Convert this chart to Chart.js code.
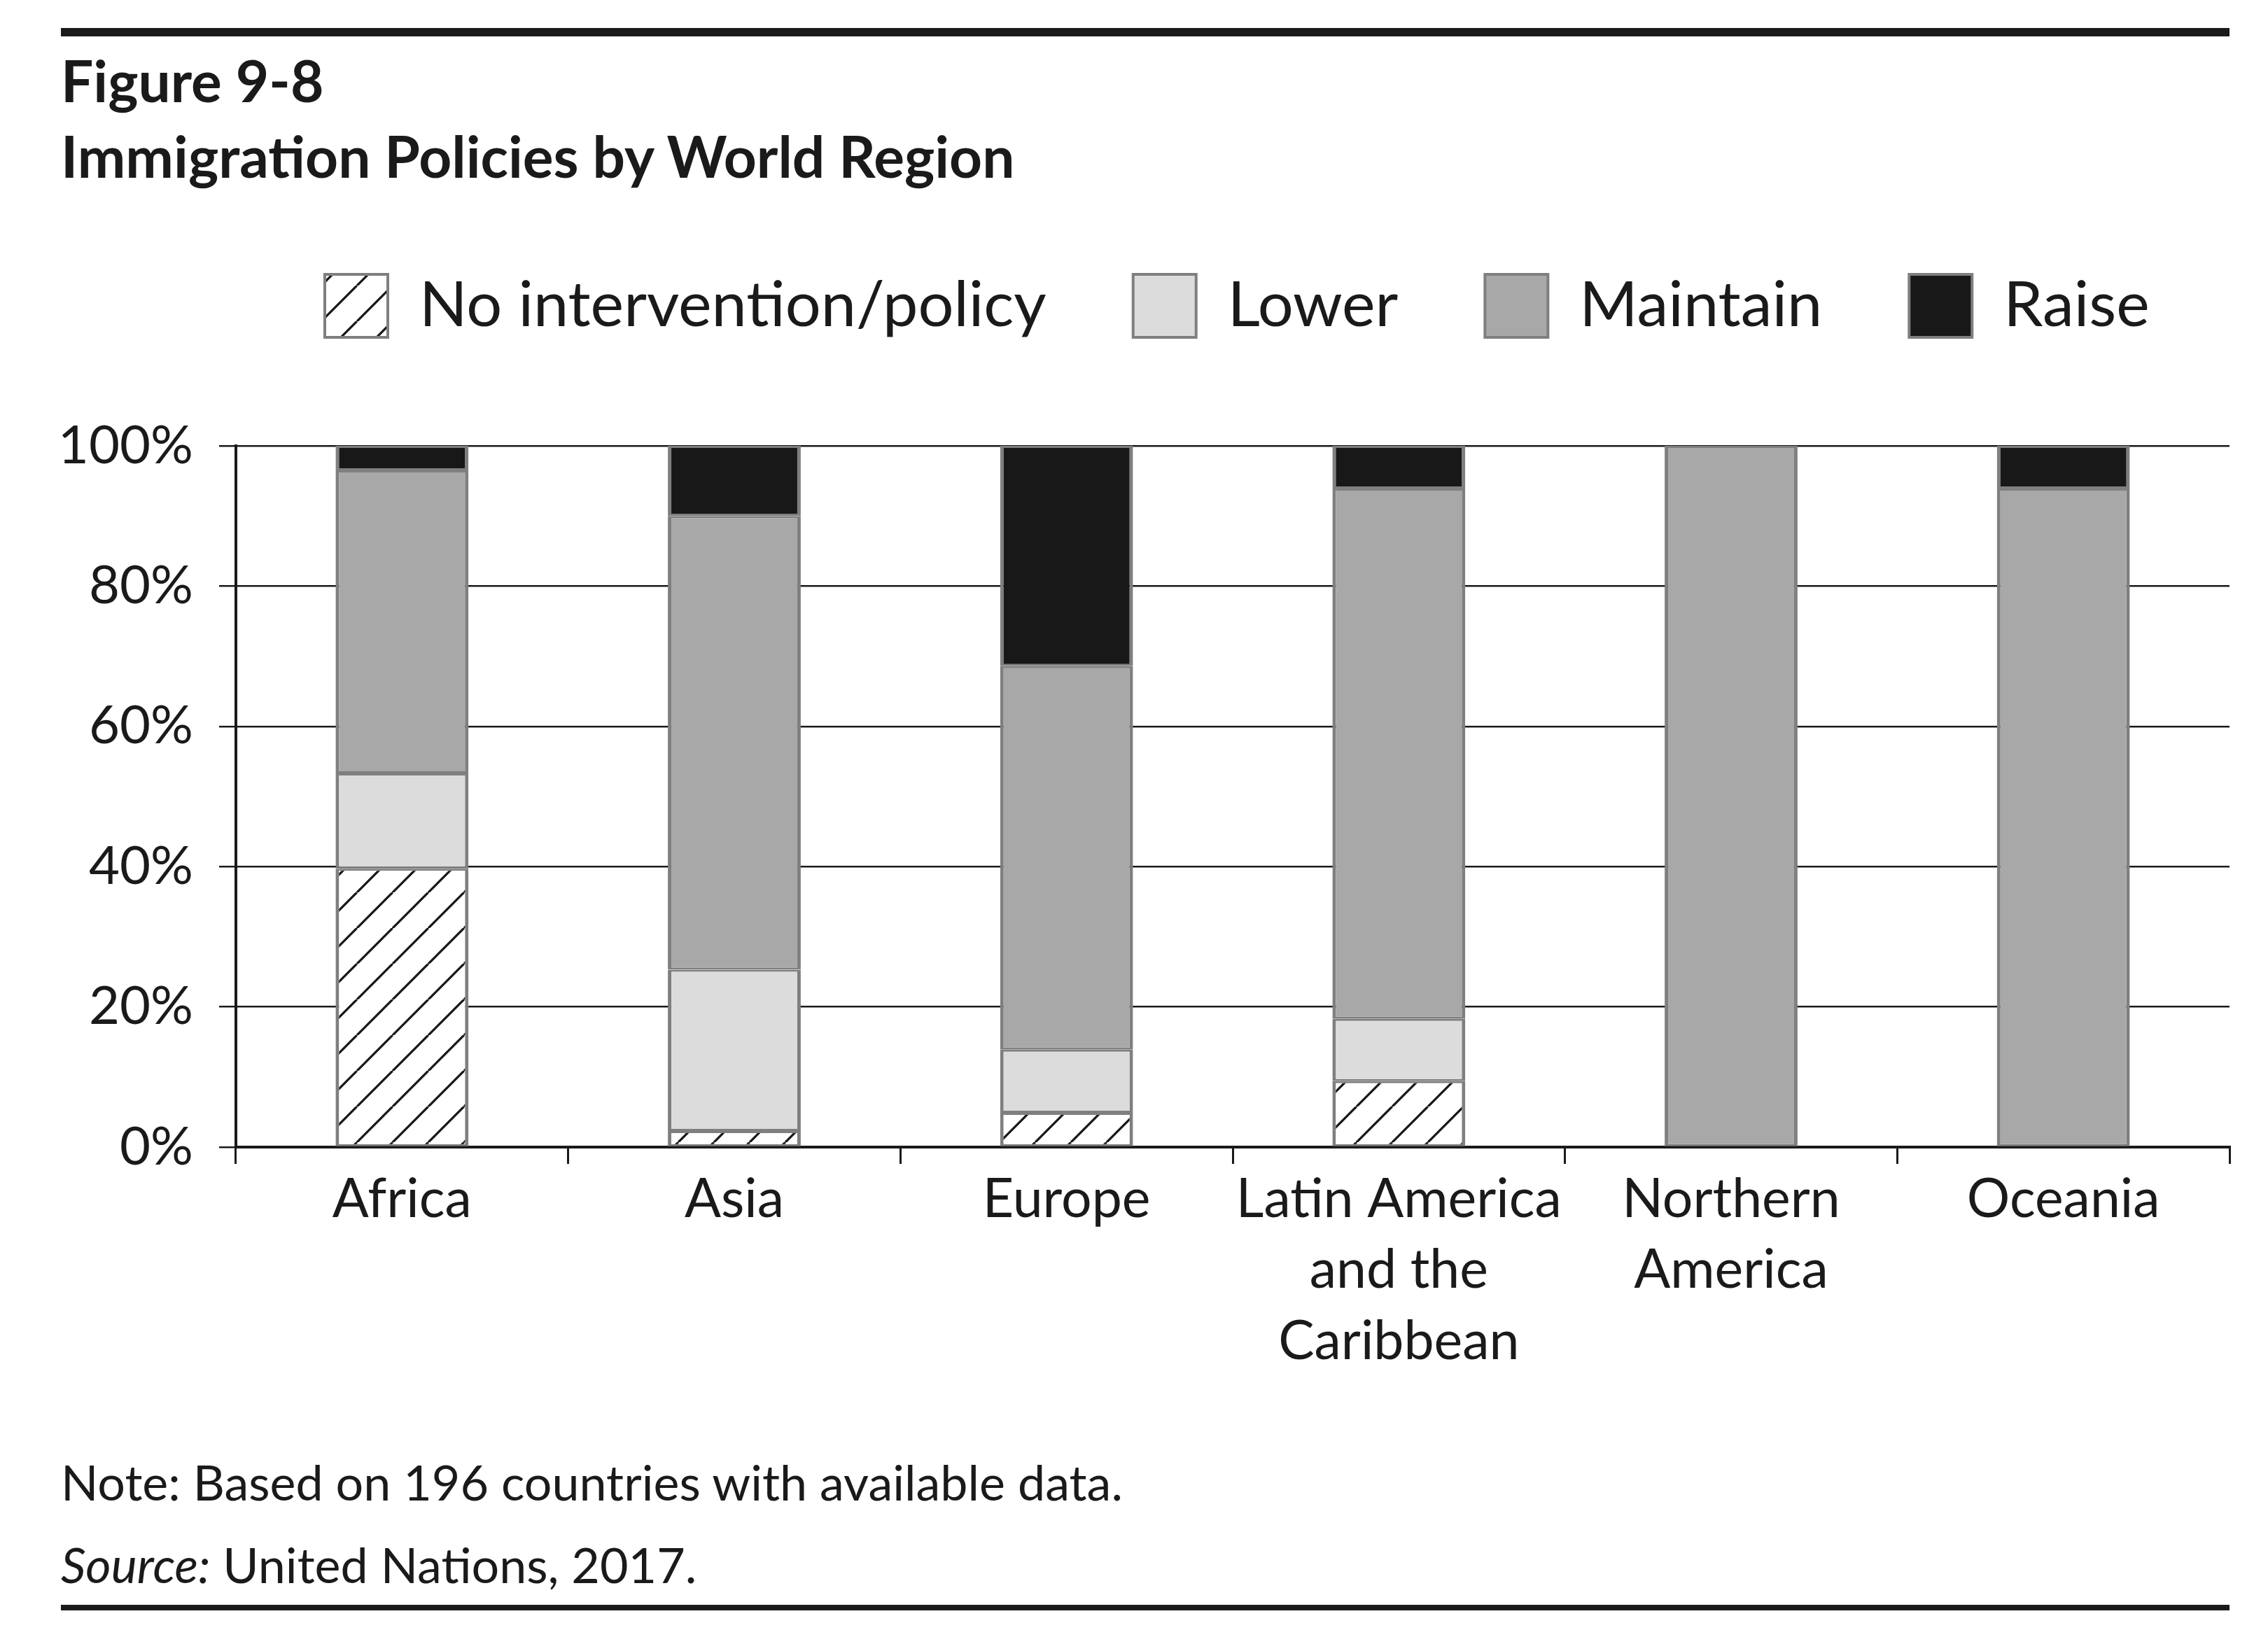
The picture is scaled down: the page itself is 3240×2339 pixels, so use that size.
<!DOCTYPE html>
<html>
<head>
<meta charset="utf-8">
<title>Immigration Policies by World Region</title>
<script src="https://cdn.jsdelivr.net/npm/chart.js@4.4.1/dist/chart.umd.min.js"></script>
<style>
  html, body { margin: 0; padding: 0; background: #fff; }
  body {
    width: 3240px; height: 2339px; position: relative; overflow: hidden;
    font-family: Lato, "Open Sans", sans-serif; color: #1a1a1a;
  }
  .rule { position: absolute; left: 87px; width: 3098px; background: #1a1a1a; }
  .txt { position: absolute; left: 87px; white-space: nowrap; line-height: 1; }
  .title { font-weight: bold; font-size: 82px; }
  .note { font-size: 70px; }
  #chart { position: absolute; left: 0; top: 0; }
</style>
</head>
<body>
  <div class="rule" style="top:40px;height:12px"></div>
  <div class="txt title" style="top:73px">Figure 9-8</div>
  <div class="txt title" style="top:181px">Immigration Policies by World Region</div>
  <canvas id="chart" width="3240" height="2339"></canvas>
  <div class="txt note" style="top:2082px">Note: Based on 196 countries with available data.</div>
  <div class="txt note" style="top:2200px"><i>Source:</i> United Nations, 2017.</div>
  <div class="rule" style="top:2293px;height:8px"></div>

<script>
// Data (share of countries, %)
const regions = ['Africa', 'Asia', 'Europe', ['Latin America', 'and the', 'Caribbean'], ['Northern', 'America'], 'Oceania'];
const seriesNames = ['No intervention/policy', 'Lower', 'Maintain', 'Raise'];
const noIntervention = [39.7, 2.3, 4.9, 9.4, 0, 0];
const lower = [13.6, 23.0, 9.0, 8.9, 0, 0];
const maintain = [43.2, 64.7, 54.7, 75.6, 100, 93.9];
const raise = [3.5, 10.0, 31.4, 6.1, 0, 6.1];
const yTicks = [0, 20, 40, 60, 80, 100];

const INK = '#1a1a1a';
const EDGE = '#7f7f7f';
const LEGEND_LEFT = 340;   // legend box x minus item padding
const LEGEND_GAP = 145;    // extra space between legend and plot

// diagonal hatch for "No intervention/policy"
function makeHatch() {
    const s = 51;
    const tile = document.createElement('canvas');
    tile.width = s; tile.height = s;
    const c = tile.getContext('2d');
    c.fillStyle = '#fff';
    c.fillRect(0, 0, s, s);
    c.strokeStyle = INK;
    c.lineWidth = 3;
    [0, s, 2 * s].forEach(k => {
        c.beginPath();
        c.moveTo(k - s, s);
        c.lineTo(k, 0);
        c.stroke();
        c.beginPath();
        c.moveTo(k, s);
        c.lineTo(k + s, 0);
        c.stroke();
    });
    return c.createPattern(tile, 'repeat');
}

const ctx = document.getElementById('chart').getContext('2d');
const hatch = makeHatch();

const fills = [hatch, '#dcdcdc', '#a8a8a8', '#181818'];
const values = [noIntervention, lower, maintain, raise];

// move the built-in legend where the figure has it
const legendPlacement = {
    id: 'legendPlacement',
    beforeInit(chart) {
        const legend = chart.legend;
        const fit = legend.fit;
        legend.fit = function () {
            fit.call(this);
            this.height += LEGEND_GAP;
        };
    },
    afterLayout(chart) {
        const legend = chart.legend;
        const dx = LEGEND_LEFT - legend.left;
        legend.left += dx;
        legend.right += dx;
    }
};

new Chart(ctx, {
    type: 'bar',
    data: {
        labels: regions,
        datasets: seriesNames.map((name, i) => ({
            label: name,
            data: values[i],
            backgroundColor: fills[i],
            borderColor: EDGE,
            borderWidth: { top: 3, bottom: 3, left: 5, right: 5 },
            borderSkipped: false,
            barPercentage: 0.4,
            categoryPercentage: 1.0
        }))
    },
    options: {
        responsive: false,
        devicePixelRatio: 1,
        animation: false,
        layout: { padding: { top: 268, left: 0, right: 55, bottom: 300 } },
        plugins: {
            legend: {
                position: 'top',
                align: 'start',
                labels: {
                    boxWidth: 90,
                    boxHeight: 90,
                    padding: 124,
                    color: INK,
                    font: { family: 'Lato', size: 90 }
                }
            },
            tooltip: { enabled: false }
        },
        scales: {
            x: {
                stacked: true,
                afterFit(scale) { scale.height = 400; },
                grid: { drawOnChartArea: false, drawTicks: true, tickLength: 24, color: INK, lineWidth: 3 },
                border: { display: true, color: INK, width: 4 },
                ticks: {
                    color: INK,
                    padding: 0,
                    maxRotation: 0,
                    autoSkip: false,
                    font: { family: 'Lato', size: 77, lineHeight: 1.32 }
                }
            },
            y: {
                stacked: true,
                min: 0,
                max: 100,
                afterFit(scale) { scale.width = 337; },
                afterBuildTicks(scale) { scale.ticks = yTicks.map(v => ({ value: v })); },
                grid: { color: INK, lineWidth: 2.5, drawTicks: true, tickLength: 24 },
                border: { display: true, color: INK, width: 4 },
                ticks: {
                    color: INK,
                    padding: 37,
                    font: { family: 'Lato', size: 76 },
                    callback: v => v + '%'
                }
            }
        }
    },
    plugins: [legendPlacement]
});
</script>
</body>
</html>
